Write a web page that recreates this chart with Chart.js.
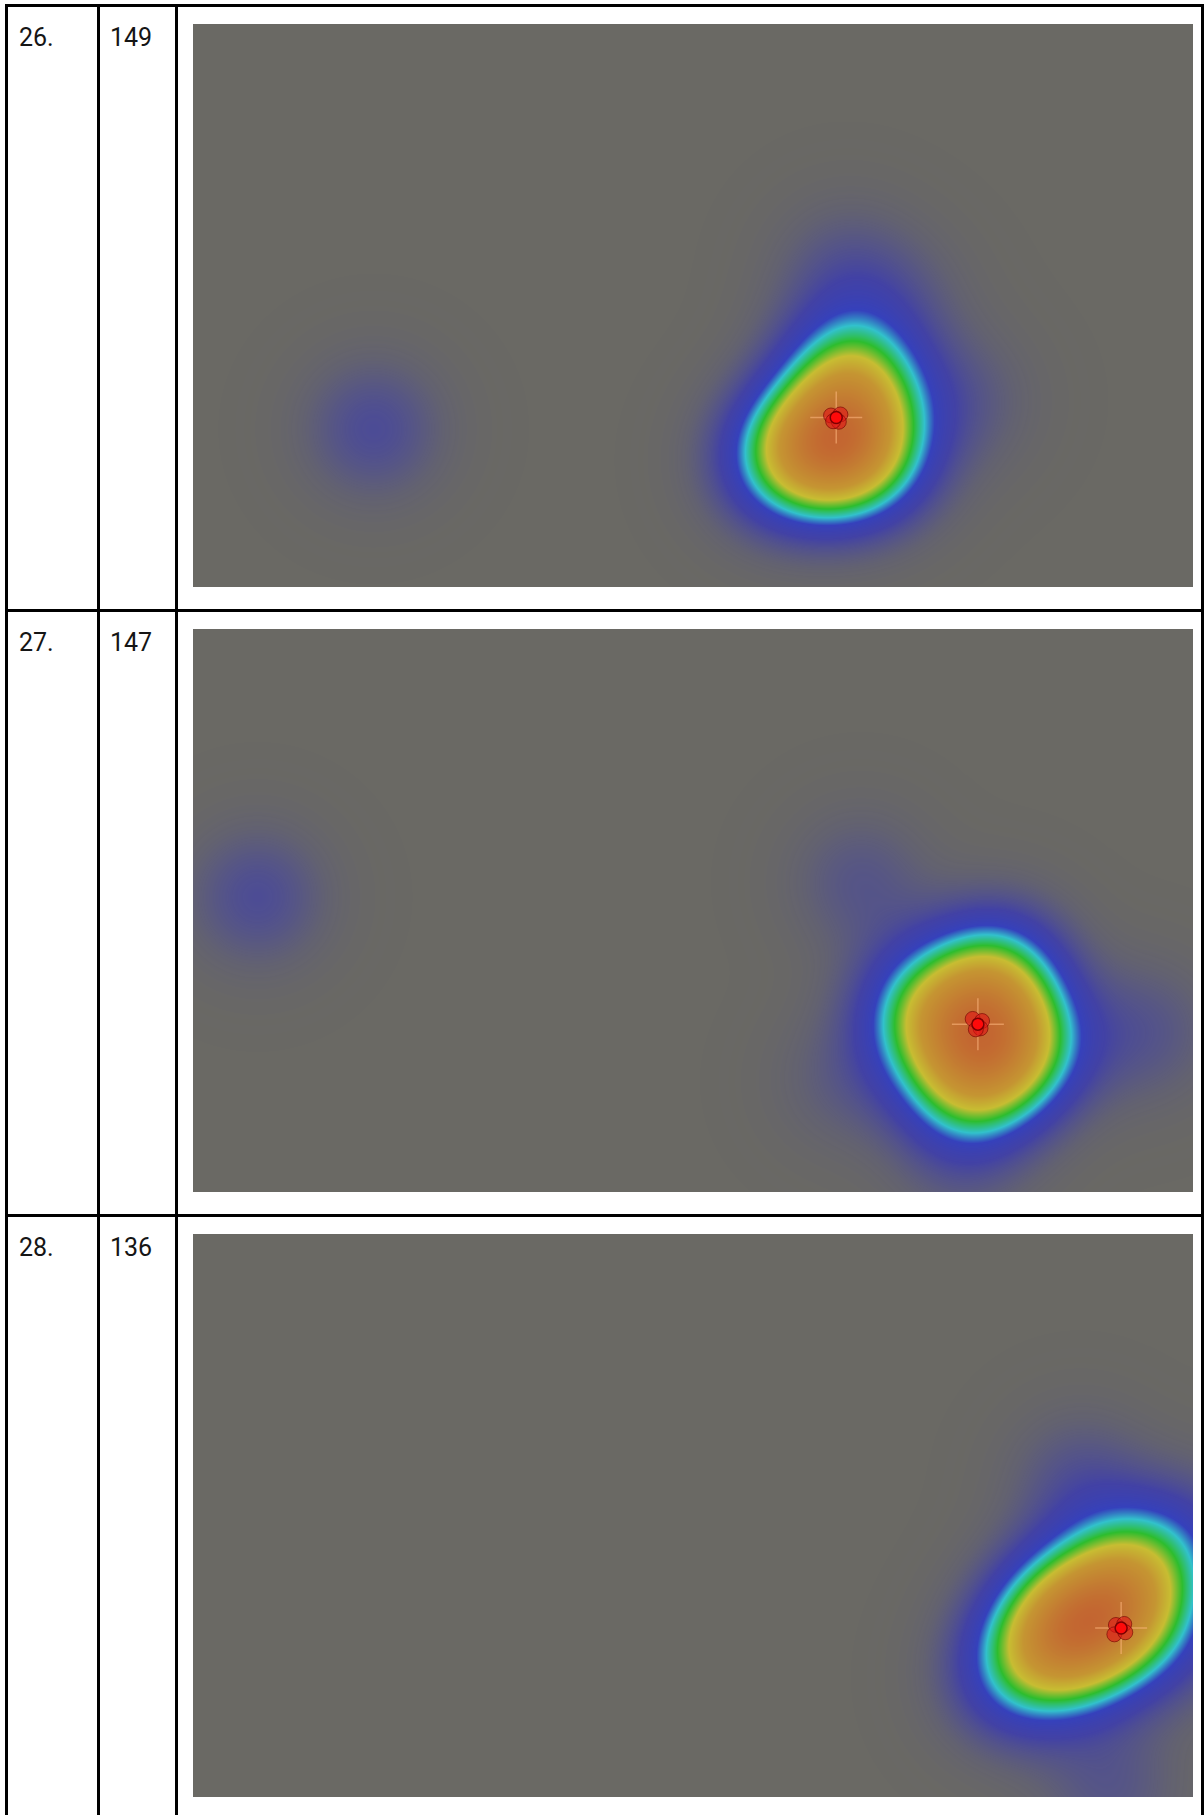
<!DOCTYPE html>
<html>
<head>
<meta charset="utf-8">
<script src="https://cdn.jsdelivr.net/npm/chart.js@4"></script>
<style>
  html, body { margin: 0; padding: 0; background: #fff; }
  body { width: 1204px; height: 1815px; position: relative; overflow: hidden; font-family: Roboto, 'Noto Sans', sans-serif; }
  .vline, .hline { position: absolute; background: #000; }
  .vline { width: 3px; top: 4px; bottom: 0; }
  .hline { height: 3px; left: 5px; right: 0; }
  .cell-text { position: absolute; font-size: 25px; line-height: 25px; color: #151515; }
  .plot { position: absolute; left: 193px; width: 1000px; height: 563px; }
</style>
</head>
<body>
<div id="table"></div>
<script>
// trial rows: label, number of samples
const trialLabels = ['26.', '27.', '28.'];
const sampleCounts = [149, 147, 136];

// screen space of the recording (px)
const screenX = [0, 1920];
const screenY = [0, 1080];

// gaze density kernels per trial: x, y (screen px), w (relative weight)
const gaze26 = [
  { x: 1213, y: 808, w: 1.0 },
  { x: 1271, y: 693, w: 0.7 },
  { x: 1252, y: 626, w: 0.18 },
  { x: 1127, y: 837, w: 0.5 },
  { x: 1300, y: 828, w: 0.6 },
  { x: 1252, y: 472, w: 0.16 },
  { x: 1473, y: 722, w: 0.15 },
  { x: 1357, y: 530, w: 0.1 },
  { x: 346, y: 776, w: 0.25 }
];
const gaze27 = [
  { x: 1507, y: 770, w: 0.45 },
  { x: 1542, y: 664, w: 0.6 },
  { x: 1588, y: 803, w: 0.6 },
  { x: 1488, y: 874, w: 0.6 },
  { x: 1407, y: 735, w: 0.6 },
  { x: 1824, y: 772, w: 0.16 },
  { x: 1281, y: 484, w: 0.15 },
  { x: 1248, y: 868, w: 0.1 },
  { x: 1473, y: 1027, w: 0.09 },
  { x: 123, y: 513, w: 0.21 }
];
const gaze28 = [
  { x: 1722, y: 762, w: 1.0 },
  { x: 1799, y: 685, w: 0.6 },
  { x: 1626, y: 801, w: 0.6 },
  { x: 1818, y: 628, w: 0.4 },
  { x: 1665, y: 705, w: 0.4 },
  { x: 1569, y: 858, w: 0.3 },
  { x: 1876, y: 781, w: 0.2 },
  { x: 1703, y: 474, w: 0.2 },
  { x: 1761, y: 1060, w: 0.18 },
  { x: 1920, y: 570, w: 0.18 }
];

// fixation samples around the target
const fix26 = [
  { x: 1225, y: 751 }, { x: 1243, y: 749 }, { x: 1240, y: 763 }, { x: 1229, y: 762 }
];
const fix27 = [
  { x: 1497, y: 748 }, { x: 1515, y: 752 }, { x: 1512, y: 766 }, { x: 1503, y: 768 }
];
const fix28 = [
  { x: 1772, y: 750 }, { x: 1788, y: 748 }, { x: 1769, y: 768 }, { x: 1790, y: 764 }
];

// target position per trial
const target26 = [{ x: 1235, y: 755 }];
const target27 = [{ x: 1507, y: 758 }];
const target28 = [{ x: 1782, y: 756 }];

const gazeSets = [gaze26, gaze27, gaze28];
const fixSets = [fix26, fix27, fix28];
const targetSets = [target26, target27, target28];

const BG_GRAY = '#6a6964';
const SIGMA = 48;

// jet-like ramp with alpha: [v, r, g, b, a]
const RAMP = [
  [0.00, 50, 50, 200, 0],
  [0.04, 50, 50, 200, 0.12],
  [0.09, 48, 48, 200, 0.35],
  [0.16, 45, 45, 200, 0.65],
  [0.26, 40, 55, 210, 0.8],
  [0.33, 36, 215, 230, 0.8],
  [0.42, 30, 210, 32, 0.8],
  [0.52, 222, 210, 38, 0.8],
  [0.65, 220, 160, 38, 0.8],
  [1.00, 217, 100, 36, 0.8]
];

function rampColor(v) {
  for (let k = 1; k < RAMP.length; k++) {
    if (v <= RAMP[k][0]) {
      const a = RAMP[k - 1], b = RAMP[k];
      const t = (v - a[0]) / (b[0] - a[0]);
      return [
        a[1] + (b[1] - a[1]) * t,
        a[2] + (b[2] - a[2]) * t,
        a[3] + (b[3] - a[3]) * t,
        a[4] + (b[4] - a[4]) * t
      ];
    }
  }
  const l = RAMP[RAMP.length - 1];
  return [l[1], l[2], l[3], l[4]];
}

const heatmapPlugin = {
  id: 'gazeHeatmap',
  beforeDatasetsDraw(chart) {
    const ctx = chart.ctx;
    const area = chart.chartArea;
    const xs = chart.scales.x, ys = chart.scales.y;
    const w = Math.round(area.right - area.left);
    const h = Math.round(area.bottom - area.top);

    ctx.save();
    ctx.fillStyle = BG_GRAY;
    ctx.fillRect(area.left, area.top, w, h);

    const ds = chart.data.datasets.find(function (d) { return d.label === 'gaze'; });
    if (!ds) { ctx.restore(); return; }

    const field = new Float32Array(w * h);
    const s2 = 2 * SIGMA * SIGMA;
    ds.data.forEach(function (p) {
      const px = xs.getPixelForValue(p.x) - area.left;
      const py = ys.getPixelForValue(p.y) - area.top;
      const ex = new Float32Array(w);
      const ey = new Float32Array(h);
      for (let i = 0; i < w; i++) ex[i] = Math.exp(-((i - px) * (i - px)) / s2);
      for (let j = 0; j < h; j++) ey[j] = p.w * Math.exp(-((j - py) * (j - py)) / s2);
      for (let j = 0; j < h; j++) {
        const e = ey[j];
        if (e < 1e-4) continue;
        const row = j * w;
        for (let i = 0; i < w; i++) field[row + i] += e * ex[i];
      }
    });

    let max = 0;
    for (let k = 0; k < field.length; k++) if (field[k] > max) max = field[k];

    const off = document.createElement('canvas');
    off.width = w; off.height = h;
    const octx = off.getContext('2d');
    const img = octx.createImageData(w, h);
    for (let k = 0; k < field.length; k++) {
      const c = rampColor(field[k] / max);
      img.data[k * 4] = c[0];
      img.data[k * 4 + 1] = c[1];
      img.data[k * 4 + 2] = c[2];
      img.data[k * 4 + 3] = Math.round(c[3] * 255);
    }
    octx.putImageData(img, 0, 0);
    ctx.drawImage(off, area.left, area.top);
    ctx.restore();
  }
};

function buildLayout() {
  const root = document.getElementById('table');
  const rowTops = [4, 609, 1214];
  [5, 97, 175, 1201].forEach(function (x) {
    const d = document.createElement('div');
    d.className = 'vline';
    d.style.left = x + 'px';
    root.appendChild(d);
  });
  rowTops.forEach(function (y, r) {
    const hl = document.createElement('div');
    hl.className = 'hline';
    hl.style.top = y + 'px';
    root.appendChild(hl);

    const t1 = document.createElement('div');
    t1.className = 'cell-text';
    t1.style.left = '19px';
    t1.style.top = (y + 21) + 'px';
    t1.textContent = trialLabels[r];
    root.appendChild(t1);

    const t2 = document.createElement('div');
    t2.className = 'cell-text';
    t2.style.left = '110px';
    t2.style.top = (y + 21) + 'px';
    t2.textContent = String(sampleCounts[r]);
    root.appendChild(t2);

    const box = document.createElement('div');
    box.className = 'plot';
    box.style.top = (y + 20) + 'px';
    const cv = document.createElement('canvas');
    cv.id = 'heat' + r;
    box.appendChild(cv);
    root.appendChild(box);
  });
}

function initChart(r) {
  const canvas = document.getElementById('heat' + r);
  new Chart(canvas.getContext('2d'), {
    type: 'scatter',
    data: {
      datasets: [
        {
          label: 'target',
          data: targetSets[r],
          pointRadius: 6,
          pointBackgroundColor: '#ff0a0a',
          pointBorderColor: '#7a0000',
          pointBorderWidth: 1.5,
          order: 1
        },
        {
          label: 'fixations',
          data: fixSets[r],
          pointRadius: 7.5,
          pointBackgroundColor: 'rgba(225, 20, 20, 0.6)',
          pointBorderColor: 'rgba(110, 0, 0, 0.6)',
          pointBorderWidth: 1,
          order: 2
        },
        {
          label: 'crosshair',
          data: targetSets[r],
          pointStyle: 'cross',
          pointRadius: 26,
          pointBorderColor: 'rgba(255, 185, 130, 0.55)',
          pointBorderWidth: 1.5,
          order: 3
        },
        {
          label: 'gaze',
          data: gazeSets[r],
          pointRadius: 0,
          order: 4
        }
      ]
    },
    options: {
      responsive: true,
      maintainAspectRatio: false,
      animation: false,
      layout: { padding: 0, autoPadding: false },
      plugins: {
        legend: { display: false },
        tooltip: { enabled: false }
      },
      scales: {
        x: { type: 'linear', min: screenX[0], max: screenX[1], display: false },
        y: { type: 'linear', min: screenY[0], max: screenY[1], reverse: true, display: false }
      }
    },
    plugins: [heatmapPlugin]
  });
}

buildLayout();
[0, 1, 2].forEach(initChart);
</script>
</body>
</html>
